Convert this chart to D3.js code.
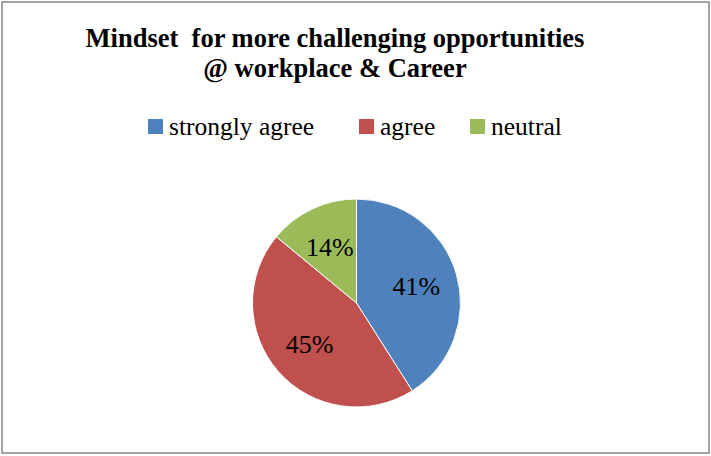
<!DOCTYPE html>
<html>
<head>
<meta charset="utf-8">
<script src="https://cdn.jsdelivr.net/npm/d3@7"></script>
<style>
  body { margin: 0; background: #fff; }
  svg text { font-family: "Liberation Serif", "DejaVu Serif", serif; fill: #000; }
</style>
</head>
<body>
<div id="chart"></div>
<script>
// data
var categories = ['strongly agree', 'agree', 'neutral'];
var values = [41, 45, 14];
var colors = ['#4F81BD', '#C0504D', '#9BBB59'];
var titleLines = ['Mindset  for more challenging opportunities', '@ workplace & Career'];

var WIDTH = 711, HEIGHT = 456;
var CX = 356.5, CY = 303, R = 104;

var svg = d3.select('#chart').append('svg')
    .attr('width', WIDTH)
    .attr('height', HEIGHT);

// frame
svg.append('rect')
    .attr('x', 2).attr('y', 2)
    .attr('width', WIDTH - 4).attr('height', HEIGHT - 5)
    .attr('fill', '#fff')
    .attr('stroke', '#868686')
    .attr('stroke-width', 1.5);

// title
svg.append('g').selectAll('text')
    .data(titleLines)
    .enter()
    .append('text')
    .attr('x', 335)
    .attr('y', (d, i) => 47 + i * 30)
    .attr('text-anchor', 'middle')
    .attr('font-size', 26.5)
    .attr('font-weight', 'bold')
    .style('white-space', 'pre')
    .text(d => d);

// legend
var legendX = [148, 359, 470];
var legend = svg.append('g').selectAll('g')
    .data(categories)
    .enter()
    .append('g')
    .attr('transform', (d, i) => 'translate(' + legendX[i] + ',119)');
legend.append('rect')
    .attr('width', 15).attr('height', 15)
    .attr('fill', (d, i) => colors[i]);
legend.append('text')
    .attr('x', 21)
    .attr('y', 16)
    .attr('font-size', 25.5)
    .text(d => d);

// pie
var pie = d3.pie().sort(null).value(d => d);
var arc = d3.arc().innerRadius(0).outerRadius(R);
var labelArc = d3.arc().innerRadius(R * 0.6).outerRadius(R * 0.6);
var total = d3.sum(values);

var slices = svg.append('g')
    .attr('transform', 'translate(' + CX + ',' + CY + ')')
    .selectAll('g')
    .data(pie(values))
    .enter()
    .append('g');

slices.append('path')
    .attr('d', arc)
    .attr('fill', (d, i) => colors[i])
    .attr('stroke', '#fff')
    .attr('stroke-width', 1);

slices.append('text')
    .attr('transform', d => 'translate(' + labelArc.centroid(d) + ')')
    .attr('dy', '0.35em')
    .attr('text-anchor', 'middle')
    .attr('font-size', 26)
    .text(d => Math.round(d.value / total * 100) + '%');
</script>
</body>
</html>
